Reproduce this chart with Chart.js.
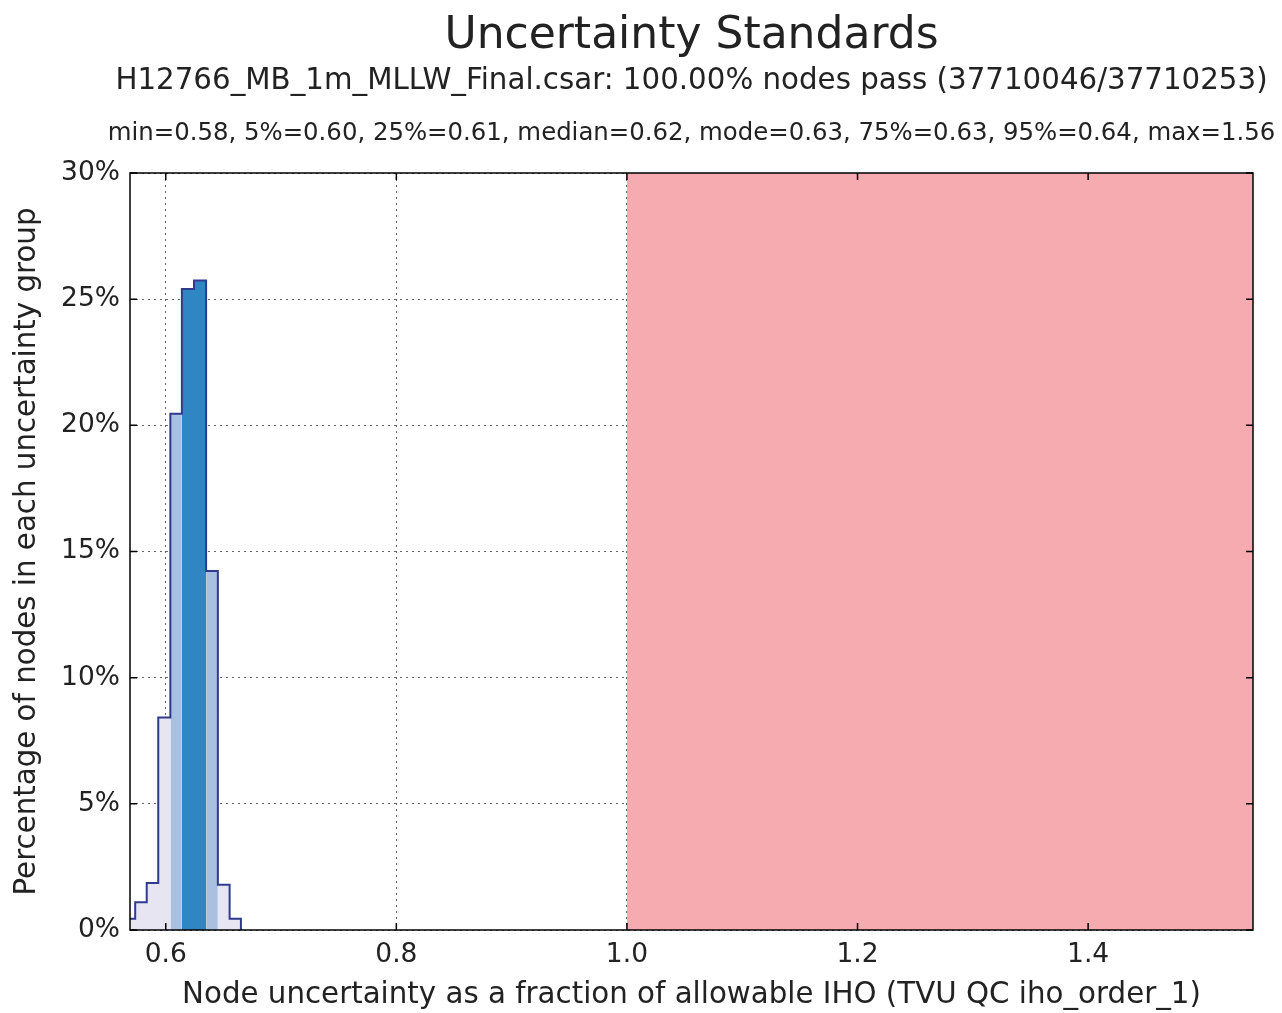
<!DOCTYPE html>
<html>
<head>
<meta charset="utf-8">
<title>Uncertainty Standards</title>
<script src="https://cdn.jsdelivr.net/npm/chart.js@4.4.1/dist/chart.umd.min.js"></script>
<style>
  html, body { margin: 0; padding: 0; background: #ffffff; }
  canvas { display: block; }
</style>
</head>
<body>
<canvas id="uncChart" width="1282" height="1013"></canvas>
<script>
// histogram bins (fraction of allowable IHO) and percentage of nodes per bin
const binEdges = [0.5635, 0.5735, 0.5835, 0.5935, 0.6040, 0.6140, 0.6245, 0.6350, 0.6452, 0.6554, 0.6652];
const binPct = [0.45, 1.1, 1.86, 8.42, 20.46, 25.4, 25.74, 14.23, 1.79, 0.45];
// which percentile band each bin falls in
const binBand = ["out", "out", "out", "out", "mid", "core", "core", "mid", "out", "out"];

const xTickValues = [0.6, 0.8, 1.0, 1.2, 1.4];
const yTickValues = [0, 5, 10, 15, 20, 25, 30];
const xMin = 0.569;
const xMax = 1.543;
const failLimit = 1.0;

const titleText = "Uncertainty Standards";
const subtitleText = "H12766_MB_1m_MLLW_Final.csar: 100.00% nodes pass (37710046/37710253)";
const statsText = "min=0.58, 5%=0.60, 25%=0.61, median=0.62, mode=0.63, 75%=0.63, 95%=0.64, max=1.56";

const bandColors = { out: "#e6e5f1", mid: "#a9c0e0", core: "#2f86c2" };
const FONT = "'DejaVu Sans', Verdana, sans-serif";

// split bins into runs of the same colour band, one filled step line per run
function bandRuns() {
    const runs = [];
    binBand.forEach((b, i) => {
        const last = runs[runs.length - 1];
        if (last && last.band === b) last.end = i;
        else runs.push({ band: b, start: i, end: i });
    });
    return runs;
}

function runPoints(run) {
    const pts = [];
    for (let i = run.start; i <= run.end; i++) pts.push({ x: binEdges[i], y: binPct[i] });
    pts.push({ x: binEdges[run.end + 1], y: binPct[run.end] });
    return pts;
}

function outlinePoints() {
    const pts = [{ x: binEdges[0], y: 0 }];
    binPct.forEach((p, i) => pts.push({ x: binEdges[i], y: p }));
    pts.push({ x: binEdges[binEdges.length - 1], y: 0 });
    return pts;
}

const datasets = [];
datasets.push({
    data: outlinePoints(),
    stepped: "before",
    borderColor: "#2e3b8e",
    borderWidth: 2,
    pointRadius: 0,
    fill: false,
    order: 0
});
bandRuns().forEach(run => {
    datasets.push({
        data: runPoints(run),
        stepped: "before",
        borderWidth: 0,
        borderColor: "rgba(0,0,0,0)",
        backgroundColor: bandColors[run.band],
        pointRadius: 0,
        fill: "origin",
        order: 1
    });
});
// failing region, x >= 1.0
datasets.push({
    data: [{ x: failLimit, y: 30 }, { x: xMax, y: 30 }],
    borderWidth: 0,
    borderColor: "rgba(0,0,0,0)",
    backgroundColor: "#f5abb0",
    pointRadius: 0,
    fill: "origin",
    order: 2
});

// title lines centred over the plot area
const headerPlugin = {
    id: "header",
    afterDraw(chart) {
        const { ctx, chartArea } = chart;
        const cx = (chartArea.left + chartArea.right) / 2;
        ctx.save();
        ctx.fillStyle = "#222222";
        ctx.textAlign = "center";
        ctx.textBaseline = "alphabetic";
        ctx.font = "44px " + FONT;
        ctx.fillText(titleText, cx, 48);
        ctx.font = "29.3px " + FONT;
        ctx.fillText(subtitleText, cx, 89);
        ctx.font = "24.4px " + FONT;
        ctx.fillText(statsText, cx, 140);
        ctx.restore();
    }
};

// frame and inward tick marks on all four sides
const framePlugin = {
    id: "frame",
    afterDraw(chart) {
        const { ctx, chartArea, scales } = chart;
        const len = 7;
        ctx.save();
        ctx.strokeStyle = "#000000";
        ctx.lineWidth = 1.5;
        ctx.beginPath();
        xTickValues.forEach(v => {
            const px = scales.x.getPixelForValue(v);
            ctx.moveTo(px, chartArea.bottom); ctx.lineTo(px, chartArea.bottom - len);
            ctx.moveTo(px, chartArea.top); ctx.lineTo(px, chartArea.top + len);
        });
        yTickValues.forEach(v => {
            const py = scales.y.getPixelForValue(v);
            ctx.moveTo(chartArea.left, py); ctx.lineTo(chartArea.left + len, py);
            ctx.moveTo(chartArea.right, py); ctx.lineTo(chartArea.right - len, py);
        });
        ctx.stroke();
        ctx.strokeRect(chartArea.left, chartArea.top, chartArea.right - chartArea.left, chartArea.bottom - chartArea.top);
        ctx.restore();
    }
};

const ctx = document.getElementById("uncChart").getContext("2d");
new Chart(ctx, {
    type: "line",
    data: { datasets: datasets },
    plugins: [headerPlugin, framePlugin],
    options: {
        responsive: false,
        animation: false,
        devicePixelRatio: 1,
        layout: { padding: { top: 173, right: 29, left: 0, bottom: 0 } },
        plugins: {
            legend: { display: false },
            tooltip: { enabled: false }
        },
        scales: {
            x: {
                type: "linear",
                min: xMin,
                max: xMax,
                z: 1,
                afterBuildTicks: scale => { scale.ticks = xTickValues.map(v => ({ value: v })); },
                afterFit: scale => { scale.height = 83; },
                grid: { color: "rgba(0,0,0,0.6)", lineWidth: 1, drawTicks: false },
                border: { display: false, dash: [2, 4] },
                ticks: {
                    color: "#222222",
                    padding: 9,
                    maxRotation: 0,
                    font: { family: FONT, size: 26.5 },
                    callback: v => v.toFixed(1)
                },
                title: {
                    display: true,
                    text: "Node uncertainty as a fraction of allowable IHO (TVU QC iho_order_1)",
                    color: "#222222",
                    font: { family: FONT, size: 29.3 },
                    padding: { top: 0, bottom: 0 }
                }
            },
            y: {
                min: 0,
                max: 30,
                z: 1,
                afterBuildTicks: scale => { scale.ticks = yTickValues.map(v => ({ value: v })); },
                afterFit: scale => { scale.width = 130; },
                grid: { color: "rgba(0,0,0,0.6)", lineWidth: 1, drawTicks: false },
                border: { display: false, dash: [2, 4] },
                ticks: {
                    color: "#222222",
                    padding: 10,
                    font: { family: FONT, size: 26.5 },
                    callback: v => v + "%"
                },
                title: {
                    display: true,
                    text: "Percentage of nodes in each uncertainty group",
                    color: "#222222",
                    font: { family: FONT, size: 29.3 },
                    padding: { top: 10, bottom: 0 }
                }
            }
        }
    }
});
</script>
</body>
</html>
